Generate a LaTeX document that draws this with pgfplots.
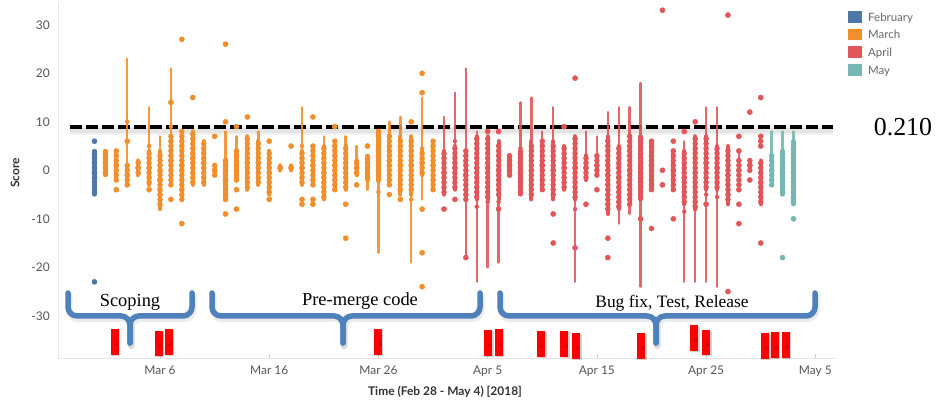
\documentclass[border=0pt]{standalone}
\usepackage{fontspec}
\setmainfont{Lato}
\newfontfamily\serif{Liberation Serif}
\usepackage{pgfplots}
\pgfplotsset{compat=1.18}
\usepackage{pgfplotstable}

\definecolor{febc}{HTML}{4E79A7}
\definecolor{marc}{HTML}{F28E2B}
\definecolor{aprc}{HTML}{E15759}
\definecolor{mayc}{HTML}{76B7B2}
\definecolor{bracec}{HTML}{4F81BD}
\definecolor{tickc}{HTML}{555555}
\definecolor{titlec}{HTML}{333333}

% day index: 0 = Mar 1
% d lo hi = dense part of a day, tlo thi = thin line of the same day
\pgfplotstableread{
d lo hi tlo thi
-1 -5 4 -5 4
}\febTab
\pgfplotstableread{
d lo hi tlo thi
0 -1 4 -1 4
1 -2 4 -2 4
2 -3 1 -3 23
3 -1 2 -1 2
4 -3 4 -3 13
5 -8 4 -8 7
6 -3 7 -3 21
7 -6 8 -6 8
8 -3 8 -3 8
9 -3 6 -3 6
10 -1 1 -1 1
11 -6 2 -6 8
12 -2 4 -2 7
13 -4 7 -4 7
14 -3 6 -3 8
15 -5 4 -5 4
16 0 1 0 1
17 0 1 0 1
18 -3 4 -3 13
19 -3 5 -3 5
20 -6 5 -6 7
21 -4 6 -4 6
22 -4 5 -4 7
23 -1 2 -1 5
24 -2 3 -4 3
25 -2 8 -17 8
26 -3 7 -3 10
27 -5 7 -5 11
28 -5 7 -19 7
29 -1 4 -6 15
30 -4 6 -4 6
}\marTab
\pgfplotstableread{
d lo hi tlo thi
31 -5 4 -5 11
32 -4 5 -4 16
33 -6 4 -18 21
34 -6 7 -23 8
35 -6 7 -20 7
36 -6 6 -19 6
37 -1 3 -1 3
38 -5 4 -5 14
39 -6 6 -6 15
40 -4 6 -4 8
41 -6 6 -6 13
42 -4 5 -4 5
43 -6 7 -23 7
44 -2 3 -2 8
45 -1 3 -1 7
46 -9 7 -9 12
47 -8 5 -11 13
48 -7 7 -9 13
49 -6 7 -24 18
50 -4 6 -4 6
52 -4 4 -4 4
53 -7 4 -23 6
54 -8 7 -23 7
55 -4 7 -23 13
56 -4 5 -24 13
57 -7 5 -7 5
58 0 0 -4 4
59 0 2 0 2
60 -7 2 -7 2
}\aprTab
\pgfplotstableread{
d lo hi tlo thi
61 -3 3 -3 8
62 -5 4 -5 8
63 -7 6 -7 8
}\mayTab
% red event bars
\pgfplotstableread{
d lo hi
0.88 -38.0 -32.7
4.9 -38.2 -33.1
5.8 -38.0 -32.7
24.96 -38.0 -32.7
35.04 -38.2 -32.9
36.04 -38.2 -32.7
39.9 -38.4 -33.1
42.0 -38.4 -33.1
43.1 -38.9 -33.5
49.05 -38.9 -33.5
53.9 -37.2 -31.9
55.0 -38.0 -32.9
60.4 -38.9 -33.5
61.3 -38.7 -33.3
62.3 -38.7 -33.3
}\barTab

\pgfplotsset{
  vbar/.style={forget plot, only marks, mark=none,
    error bars/y dir=both, error bars/y explicit, error bars/error mark=none},
  thinpart/.style={vbar, error bars/error bar style={line width=2.4bp, line cap=round, opacity=0.9}},
  corepart/.style={vbar, error bars/error bar style={line width=4.2bp, line cap=round}},
  beadpart/.style={vbar, error bars/error bar style={line width=5.6bp, line cap=round, dash pattern=on 0pt off 4.8501bp}},
  dots/.style={forget plot, only marks, mark=*, mark size=2.6bp},
}
% each part is drawn as a symmetric error bar around the middle of its range
\newcommand{\column}[2]{%
  \addplot[#1, thinpart] table[x=d, y expr=(\thisrow{thi}+\thisrow{tlo})/2, y error expr=(\thisrow{thi}-\thisrow{tlo})/2] {#2};
  \addplot[#1, corepart] table[x=d, y expr=(\thisrow{hi}+\thisrow{lo})/2, y error expr=(\thisrow{hi}-\thisrow{lo})/2] {#2};
  \addplot[#1, beadpart] table[x=d, y expr=(\thisrow{hi}+\thisrow{lo})/2, y error expr=(\thisrow{hi}-\thisrow{lo})/2] {#2};
}

\begin{document}
\begin{tikzpicture}
\useasboundingbox (0,0) rectangle (936bp,401bp);
\begin{axis}[
  at={(58bp,43bp)}, anchor=south west,
  scale only axis, width=777bp, height=356bp,
  xmin=-4.34, xmax=66.8, ymin=-38.7, ymax=34.7,
  clip=false,
  axis x line*=bottom, axis y line*=left,
  axis line style={draw=black!10, line width=0.6bp},
  xtick={5,15,25,35,45,55,65},
  xticklabels={Mar 6,Mar 16,Mar 26,Apr 5,Apr 15,Apr 25,May 5},
  ytick={-30,-20,-10,0,10,20,30},
  yticklabels={-30,-20,-10,0,10,20,30},
  xtick style={draw=black!20, line width=0.6bp},
  ytick style={draw=none},
  major tick length=4bp,
  tick label style={font=\fontsize{12}{14}\selectfont, text=tickc, inner sep=0pt},
  yticklabel style={anchor=east, xshift=-8bp},
  xticklabel style={anchor=north, yshift=-8bp},
]
% reference line (score 0.210) with a soft shadow
\addplot[forget plot, black, opacity=0.05, line width=9bp, yshift=-3.5bp] coordinates {(-3.24,8.9) (66.6,8.9)};
\addplot[forget plot, black, opacity=0.06, line width=5bp, yshift=-3bp] coordinates {(-3.24,8.9) (66.6,8.9)};
\addplot[forget plot, black, line width=4.5bp, dash pattern=on 11.5bp off 4.5bp] coordinates {(-3.24,8.9) (66.6,8.9)};

\column{febc}{\febTab}
\column{marc}{\marTab}
\column{aprc}{\aprTab}
\column{mayc}{\mayTab}

\addplot[febc, dots] coordinates {(-1,6) (-1,-23)};
\addplot[marc, dots] coordinates {(1,-4) (2,6) (4,-4) (6,14) (6,-6) (7,27) (7,-11) (8,15)
  (10,7) (11,26) (11,10) (11,-9) (12,9) (12,-4) (12,-8) (13,11) (15,6) (15,-6) (17,5)
  (18,-6) (18,-7) (19,11) (19,-6) (19,-7) (21,9) (22,-7) (22,-14) (23,-3) (24,5) (26,-5)
  (27,-6) (28,10) (29,20) (29,16) (29,-8) (29,-17) (29,-24)};
\addplot[aprc, dots] coordinates {(31,-8) (32,-6) (33,-18) (35,8) (36,8) (36,-8) (41,-9)
  (41,-15) (42,9) (43,19) (43,-16) (44,-7) (45,-4) (46,-14) (46,-18) (49,-10) (50,-12)
  (51,33) (51,0) (51,-3) (52,6) (52,-10) (53,8) (54,10) (55,-7) (57,32) (57,-25)
  (58,7) (58,4) (58,2) (58,1) (58,-1) (58,-2) (58,-3) (58,-4) (58,-7) (58,-11)
  (59,12) (59,-2) (60,15) (60,7) (60,6) (60,5) (60,-15)};
\addplot[mayc, dots] coordinates {(62,-18) (63,-10)};

% red event bars, with a light shadow
\addplot[black, opacity=0.18, vbar, xshift=1.2bp, yshift=-1.5bp, error bars/error bar style={line width=8.5bp, line cap=butt}]
  table[x=d, y expr=(\thisrow{hi}+\thisrow{lo})/2, y error expr=(\thisrow{hi}-\thisrow{lo})/2] {\barTab};
\addplot[red, vbar, error bars/error bar style={line width=8.5bp, line cap=butt}]
  table[x=d, y expr=(\thisrow{hi}+\thisrow{lo})/2, y error expr=(\thisrow{hi}-\thisrow{lo})/2] {\barTab};
\end{axis}

% braces (picture coordinates in bp)
\tikzset{brace/.style={draw=bracec, line width=5.5bp, rounded corners=9bp, line cap=round},
  braceshadow/.style={draw=black, opacity=0.08, line width=7bp, rounded corners=9bp, line cap=round, shift={(1.2bp,-2.5bp)}}}
\foreach \L/\T/\R in {68/130/192, 212/343/480, 500/656/815} {
  \draw[braceshadow] (\L bp,108bp) -- (\L bp,85bp) -- (\T bp,85bp) -- (\T bp,58bp);
  \draw[braceshadow] (\R bp,108bp) -- (\R bp,85bp) -- (\T bp,85bp) -- (\T bp,58bp);
  \draw[brace] (\L bp,108bp) -- (\L bp,85bp) -- (\T bp,85bp) -- (\T bp,58bp);
  \draw[brace] (\R bp,108bp) -- (\R bp,85bp) -- (\T bp,85bp) -- (\T bp,58bp);
}
\node[anchor=base, inner sep=0pt, font=\serif\fontsize{18.5}{20}\selectfont] at (130bp,94bp) {Scoping};
\node[anchor=base, inner sep=0pt, font=\serif\fontsize{18.5}{20}\selectfont] at (360bp,95bp) {Pre-merge code};
\node[anchor=base, inner sep=0pt, font=\serif\fontsize{17.5}{20}\selectfont] at (672bp,93bp) {Bug fix, Test, Release};
\node[anchor=base, inner sep=0pt, font=\serif\fontsize{26}{28}\selectfont] at (903bp,265bp) {0.210};

% axis titles
\node[rotate=90, inner sep=0pt, text=titlec, font=\bfseries\fontsize{12}{14}\selectfont] at (15bp,228bp) {Score};
\node[inner sep=0pt, text=titlec, font=\bfseries\fontsize{12}{14}\selectfont] at (445bp,9bp) {Time (Feb 28 - May 4) [2018]};

% legend
\foreach \c/\n/\y in {febc/February/384, marc/March/366.5, aprc/April/349, mayc/May/331} {
  \fill[\c] (848bp,\y bp-5.8bp) rectangle (862bp,\y bp+5.8bp);
  \node[anchor=base west, inner sep=0pt, text=black!60, font=\fontsize{11.5}{13}\selectfont] at (868bp,\y bp-4.1bp) {\n};
}
\end{tikzpicture}
\end{document}
